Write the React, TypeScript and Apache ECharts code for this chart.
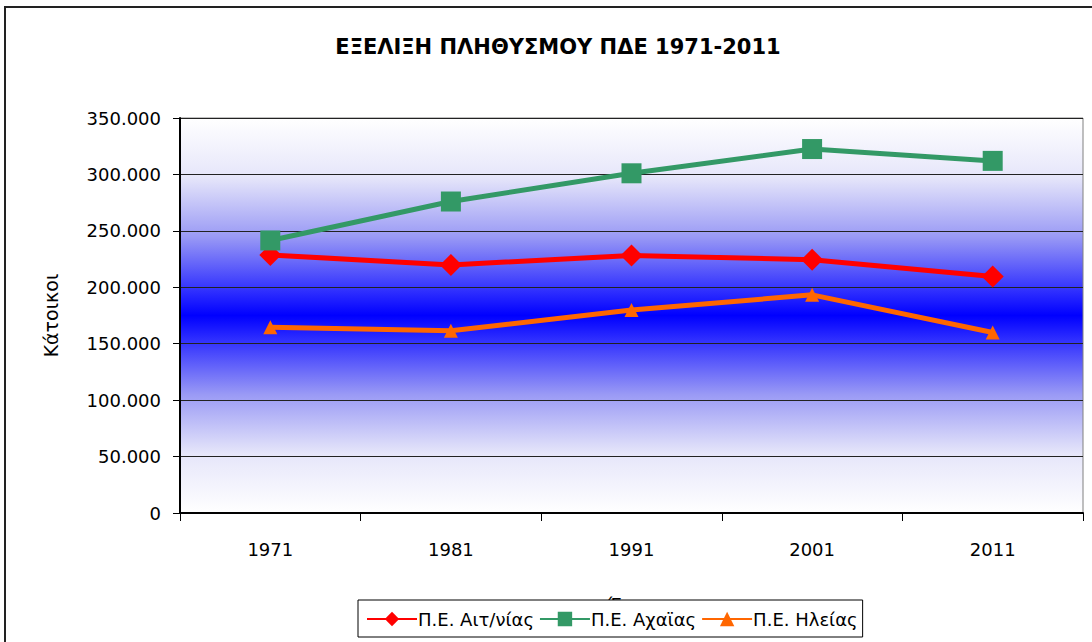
import React, { useEffect, useRef } from "react";
import * as echarts from "echarts";

const years = ["1971", "1981", "1991", "2001", "2011"];
const aitoloakarnania = [228700, 219800, 228200, 224400, 209500];
const achaia = [241500, 276000, 301000, 322500, 312000];
const ilia = [164500, 161500, 179800, 193300, 160000];

const FONT = "'DejaVu Sans', 'Noto Sans', sans-serif";

const fmt = (v: number) => String(v).replace(/\B(?=(\d{3})+(?!\d))/g, ".");

export default function App() {
  const ref = useRef<HTMLDivElement>(null);
  useEffect(() => {
    const chart = echarts.init(ref.current!, null, { renderer: "svg" });
    chart.setOption({
      animation: false,
      backgroundColor: "#ffffff",
      title: {
        text: "ΕΞΕΛΙΞΗ ΠΛΗΘΥΣΜΟΥ ΠΔΕ 1971-2011",
        left: 553,
        top: 31,
        textAlign: "center",
        textStyle: { fontFamily: FONT, fontSize: 21, fontWeight: "bold", color: "#000" },
      },
      graphic: [
        {
          type: "rect",
          shape: { x: 5, y: 7, width: 1100, height: 700 },
          style: { fill: "none", stroke: "#222", lineWidth: 2 },
          silent: true,
          z: 100,
        },
      ],
      grid: {
        left: 180,
        right: 9,
        top: 118,
        bottom: 129,
        show: true,
        borderColor: "#808080",
        borderWidth: 1,
        backgroundColor: new echarts.graphic.LinearGradient(0, 0, 0, 1, [
          { offset: 0, color: "#ffffff" },
          { offset: 0.15, color: "#e6e6fa" },
          { offset: 0.3, color: "#9a9af5" },
          { offset: 0.45, color: "#2626ff" },
          { offset: 0.5, color: "#0000ff" },
          { offset: 0.55, color: "#2626ff" },
          { offset: 0.7, color: "#9a9af5" },
          { offset: 0.85, color: "#e6e6fa" },
          { offset: 1, color: "#ffffff" },
        ]),
      },
      xAxis: {
        type: "category",
        data: years,
        boundaryGap: true,
        name: "Έτος",
        nameLocation: "middle",
        nameGap: 82,
        nameTextStyle: { fontFamily: FONT, fontSize: 18, color: "#000" },
        axisLine: { lineStyle: { color: "#000", width: 2 } },
        axisTick: { show: true, length: 8, lineStyle: { color: "#000" } },
        axisLabel: { fontFamily: FONT, fontSize: 18, color: "#000", margin: 27 },
      },
      yAxis: {
        type: "value",
        min: 0,
        max: 350000,
        interval: 50000,
        name: "Κάτοικοι",
        nameLocation: "middle",
        nameGap: 120,
        nameTextStyle: { fontFamily: FONT, fontSize: 19, color: "#000" },
        axisLine: { show: true, lineStyle: { color: "#000", width: 2 } },
        axisTick: { show: true, length: 7, lineStyle: { color: "#000" } },
        axisLabel: {
          fontFamily: FONT,
          fontSize: 18,
          color: "#000",
          margin: 19,
          formatter: (v: number) => fmt(v),
        },
        splitLine: { lineStyle: { color: "#222", width: 1 } },
      },
      legend: {
        bottom: 5,
        left: 358,
        orient: "horizontal",
        backgroundColor: "#ffffff",
        borderColor: "#000",
        borderWidth: 1,
        borderRadius: 0,
        padding: [10, 5, 9, 8],
        itemWidth: 50,
        itemHeight: 18,
        itemGap: 5,
        textStyle: { fontFamily: FONT, fontSize: 18, color: "#000", padding: [0, 0, 0, -4] },
        data: ["Π.Ε. Αιτ/νίας", "Π.Ε. Αχαϊας", "Π.Ε. Ηλείας"],
      },
      series: [
        {
          name: "Π.Ε. Αιτ/νίας",
          type: "line",
          data: aitoloakarnania,
          symbol: "diamond",
          symbolSize: 22,
          lineStyle: { color: "#ff0000", width: 5 },
          itemStyle: { color: "#ff0000" },
          z: 3,
        },
        {
          name: "Π.Ε. Αχαϊας",
          type: "line",
          data: achaia,
          symbol: "rect",
          symbolSize: 20,
          lineStyle: { color: "#339966", width: 5 },
          itemStyle: { color: "#339966" },
          z: 3,
        },
        {
          name: "Π.Ε. Ηλείας",
          type: "line",
          data: ilia,
          symbol: "triangle",
          symbolSize: 14,
          lineStyle: { color: "#ff6600", width: 5 },
          itemStyle: { color: "#ff6600" },
          z: 3,
        },
      ],
    });
    return () => chart.dispose();
  }, []);
  return (
    <div
      ref={ref}
      style={{ position: "fixed", left: 0, top: 0, width: 1092, height: 642 }}
    />
  );
}
